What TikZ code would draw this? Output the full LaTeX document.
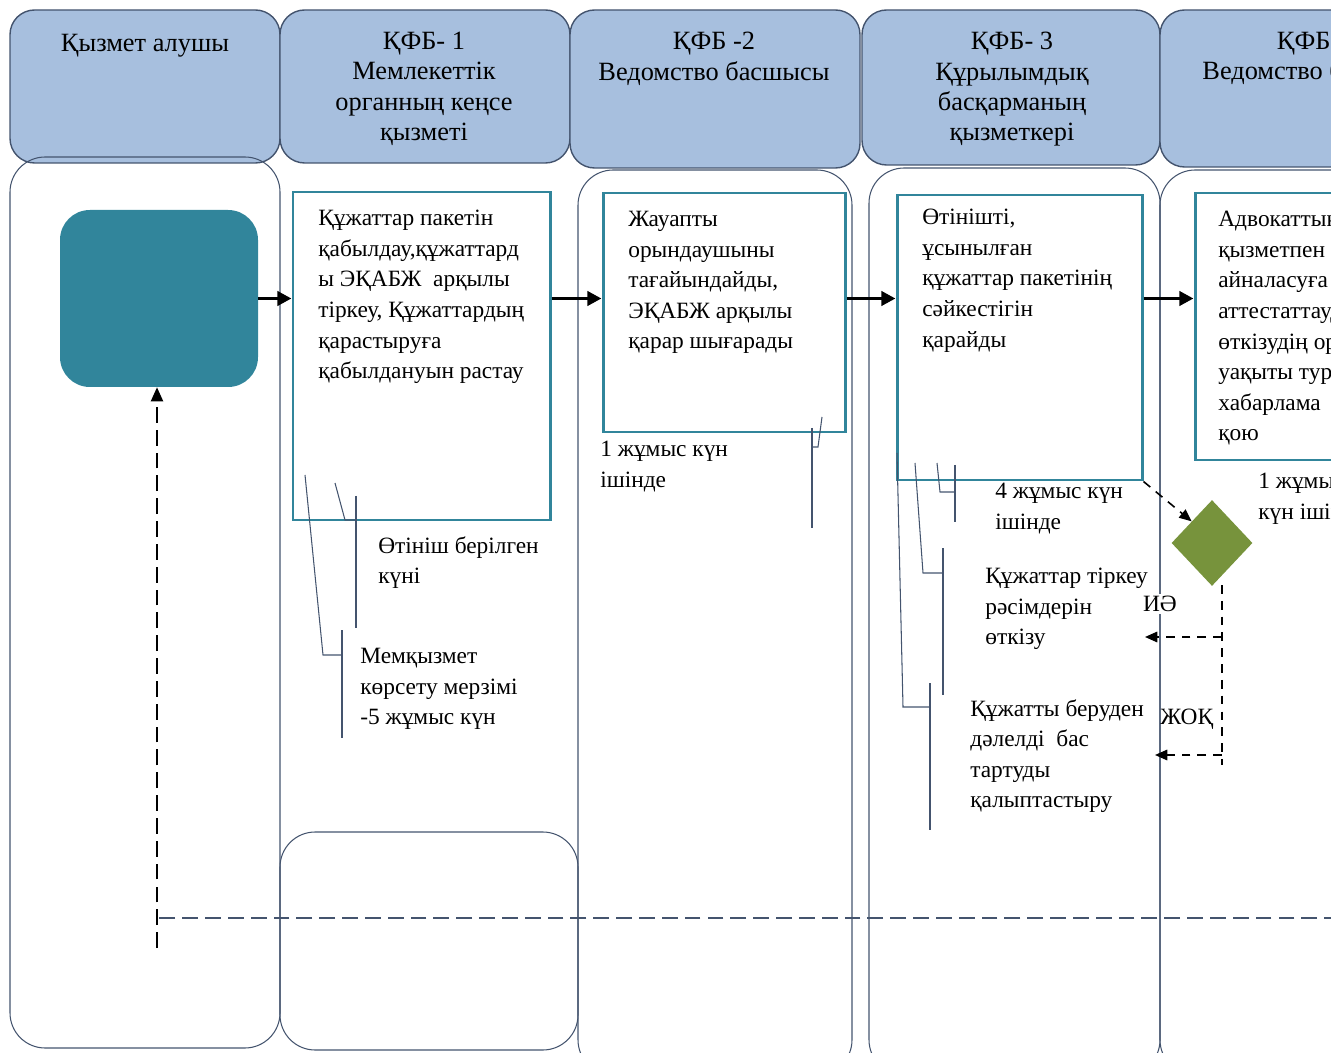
\documentclass[tikz,border=0pt]{standalone}
\usepackage{fontspec}
\setmainfont{Liberation Serif}
\usepackage{xcolor}
\usepackage{tikz}
\usetikzlibrary{arrows.meta,fit,positioning,shapes.geometric}
\definecolor{hdrfill}{RGB}{167,191,222}
\definecolor{lanecol}{RGB}{68,84,110}
\definecolor{tealcol}{RGB}{49,133,155}
\definecolor{decgreen}{RGB}{119,147,60}
\newcommand{\hdrfont}{\fontsize{15}{17.2}\selectfont}
\newcommand{\lblfont}{\fontsize{13.3}{17.4}\selectfont}
\tikzset{
  hdr/.style={draw=lanecol, fill=hdrfill, line width=0.8pt, rounded corners=14pt, inner sep=0pt},
  lane/.style={draw=lanecol, line width=0.6pt, rounded corners=20pt},
  proc/.style={draw=tealcol, fill=white, line width=1.7pt, inner sep=0pt},
  startbox/.style={fill=tealcol, rounded corners=17pt, inner sep=0pt},
  dec/.style={diamond, fill=decgreen, inner sep=0pt, minimum width=1.62cm, minimum height=1.72cm},
  txt/.style={anchor=north west, inner sep=0pt, align=left, font=\lblfont},
  htxt/.style={anchor=north, inner sep=0pt, align=center, font=\hdrfont},
  flow/.style={line width=2pt, -{Triangle[length=8pt,width=8pt]}},
  ans/.style={line width=0.9pt, dash pattern=on 5pt off 4pt, -{Triangle[length=7pt,width=6pt]}},
  call/.style={draw=lanecol, line width=0.6pt},
  ret/.style={draw=lanecol, line width=1.4pt, dash pattern=on 9pt off 4pt}
}
\begin{document}
\begin{tikzpicture}[x=0.02cm, y=-0.02cm]
\useasboundingbox (0,0) rectangle (1331,1053);
\clip (0,0) rectangle (1331,1053);

\node[hdr, fit={(10,10) (280,163)}] (h1) {};
\node[hdr, fit={(280,10) (570,163)}] (h2) {};
\node[hdr, fit={(570,10) (860,168)}] (h3) {};
\node[hdr, fit={(862,10) (1160,165)}] (h4) {};
\node[hdr, fit={(1160,10) (1460,167)}] (h5) {};

\node[htxt] (h1t) at (145,34) {Қызмет алушы};
\node[htxt] (h2t) at (424,32) {ҚФБ- 1\\Мемлекеттік\\органның кеңсе\\қызметі};
\node[htxt] (h3t) at (714,32) {ҚФБ -2\\Ведомство басшысы};
\node[htxt] (h4t) at (1012,32) {ҚФБ- 3\\Құрылымдық\\басқарманың\\қызметкері};
\node[htxt] (h5t) at (1318,32) {ҚФБ- 4\\Ведомство басшысы};

\draw[lane] (10,157) rectangle (280,1048);
\draw[lane] (280,832) rectangle (578,1050);
\draw[lane] (578,170) rectangle (852,1075);
\draw[lane] (869,168) rectangle (1160,1075);
\draw[lane] (1160,170) rectangle (1460,1075);

\node[startbox, fit={(60,210) (258,387)}] (st) {};
\node[proc, fit={(293,192) (550,520)}] (b1) {};
\node[proc, fit={(603,193) (845,432)}] (b2) {};
\node[proc, fit={(897,195) (1142,480)}] (b3) {};
\node[proc, fit={(1195,193) (1460,460)}] (b4) {};
\node[dec] (dm) at (1212,543) {};

\node[txt] (b1t) at (318,210) {Құжаттар пакетін\\қабылдау,құжаттард\\ы ЭҚАБЖ\ \ арқылы\\тіркеу, Құжаттардың\\қарастыруға\\қабылдануын растау};
\node[txt] (b2t) at (628,211) {Жауапты\\орындаушыны\\тағайындайды,\\ЭҚАБЖ арқылы\\қарар шығарады};
\node[txt] (b3t) at (922,209) {Өтінішті,\\ұсынылған\\құжаттар пакетінің\\сәйкестігін\\қарайды};
\node[txt] (b4t) at (1218,211) {Адвокаттық\\қызметпен\\айналасуға\\аттестаттауды\\өткізудің орны\\уақыты туралы\\хабарлама\\қою};

\draw[call] (335,483) -- (345,520) -- (356,520);
\draw[call] (356,496) -- (356,628);
\draw[call] (305,475) -- (323,655) -- (342,655);
\draw[call] (342,630) -- (342,738);
\draw[call] (822,417) -- (818,447) -- (812,447);
\draw[call] (812,428) -- (812,528);
\draw[call] (937,463) -- (940,492) -- (955,492);
\draw[call] (955,465) -- (955,522);
\draw[call] (915,463) -- (923,573) -- (943,573);
\draw[call] (943,548) -- (943,695);
\draw[call] (897,453) -- (903,707) -- (930,707);
\draw[call] (930,683) -- (930,830);

\node[txt] (d1) at (600,441) {1 жұмыс күн\\ішінде};
\node[txt] (d0) at (378,536) {Өтініш берілген\\күні};
\node[txt] (dt) at (360,648) {Мемқызмет\\көрсету мерзімі\\-5 жұмыс күн};
\node[txt] (d3) at (995,483) {4 жұмыс күн\\ішінде};
\node[txt] (r1) at (985,568) {Құжаттар тіркеу\\рәсімдерін\\өткізу};
\node[txt] (r2) at (970,699) {Құжатты беруден\\дәлелді\ \ бас\\тартуды\\қалыптастыру};
\node[txt] (d4) at (1258,473) {1 жұмыс\\күн ішінде};
\node[txt, fill=white, inner sep=1pt] (yes) at (1141,594) {ИӘ};
\node[txt] (no) at (1160,709) {ЖОҚ};

\draw[flow] (st.east) -- (st.east -| b1.west);
\draw[flow] (b1.east |- st.east) -- (b2.west |- st.east);
\draw[flow] (b2.east |- st.east) -- (b3.west |- st.east);
\draw[flow] (b3.east |- st.east) -- (b4.west |- st.east);

\coordinate (dv) at (1222,585);
\coordinate (ya) at (1145,637);
\coordinate (na) at (1155,755);
\draw[ans] (b3.south east) -- (dm.north west);
\draw[line width=0.9pt, dash pattern=on 5pt off 4pt] (dv) -- (1222,765);
\draw[ans] (dv |- ya) -- (ya);
\draw[ans] (dv |- na) -- (na);

\coordinate (rc) at (157,918);
\draw[ret] (1340,918) -- (rc);
\draw[line width=0.8pt, dash pattern=on 9pt off 4pt, -{Triangle[length=8pt,width=7pt]}] (157,948) -- (st.south -| rc);
\end{tikzpicture}
\end{document}
